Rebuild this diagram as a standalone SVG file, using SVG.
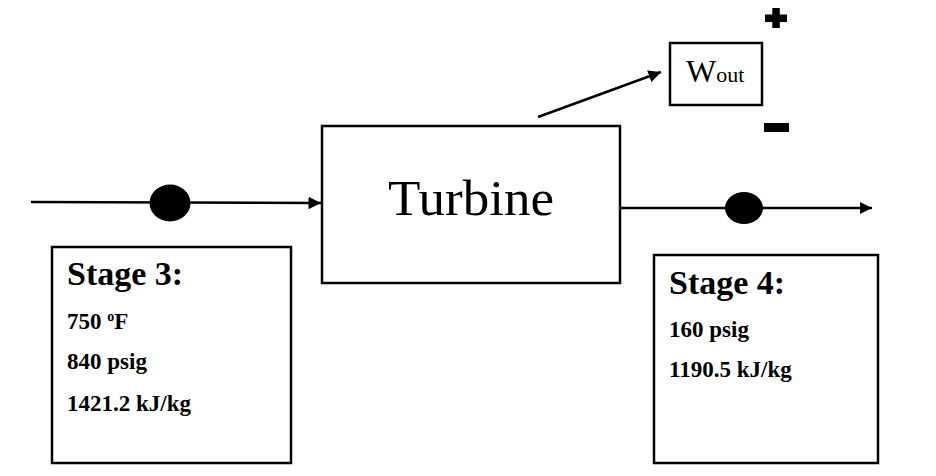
<svg xmlns="http://www.w3.org/2000/svg" width="936" height="476" viewBox="0 0 936 476">
<defs>
<style>
.box{fill:#fff;stroke:#000;stroke-width:2.5}
.ln{stroke:#000;stroke-width:2.5;fill:none}
.t{font-family:"Liberation Serif","Times New Roman",serif;fill:#000}
.b{font-weight:bold}
</style>
<marker id="ah" viewBox="0 0 10 10" refX="10" refY="5" markerWidth="5" markerHeight="5" orient="auto" markerUnits="strokeWidth">
<path d="M0,0 L10,5 L0,10 z" fill="#000"/>
</marker>
</defs>
<rect width="936" height="476" fill="#fff"/>
<g id="connectors">
<line class="ln" x1="31" y1="202" x2="321" y2="203" marker-end="url(#ah)"/>
<line class="ln" x1="620" y1="208" x2="872" y2="208" marker-end="url(#ah)"/>
<line class="ln" x1="538" y1="117" x2="661" y2="72" marker-end="url(#ah)"/>
</g>
<g id="point3"><ellipse cx="170" cy="203" rx="20.5" ry="18.5" fill="#000"/></g>
<g id="point4"><ellipse cx="744" cy="208" rx="19" ry="16" fill="#000"/></g>
<g id="turbine">
<rect class="box" x="322" y="126" width="298" height="157"/>
<text class="t" x="388" y="215" font-size="51" textLength="166" lengthAdjust="spacingAndGlyphs">Turbine</text>
</g>
<g id="wout">
<rect class="box" x="670" y="43" width="92" height="62"/>
<text class="t" x="686" y="82" font-size="32">W<tspan font-size="22">out</tspan></text>
</g>
<g id="signs">
<rect x="765" y="14.5" width="22" height="7.5" fill="#000"/>
<rect x="772.3" y="8" width="7.5" height="20" fill="#000"/>
<rect x="764" y="123" width="25" height="9" fill="#000"/>
</g>
<g id="stage3">
<rect class="box" x="52" y="247" width="239" height="216"/>
<text class="t b" x="67" y="285" font-size="34">Stage 3:</text>
<text class="t b" x="67" y="329" font-size="23">750 <tspan font-size="14" dy="-8">o</tspan><tspan dy="8">F</tspan></text>
<text class="t b" x="67" y="369" font-size="23">840 psig</text>
<text class="t b" x="67" y="411" font-size="23">1421.2 kJ/kg</text>
</g>
<g id="stage4">
<rect class="box" x="654" y="255" width="224" height="208"/>
<text class="t b" x="669" y="294" font-size="34">Stage 4:</text>
<text class="t b" x="669" y="337" font-size="23">160 psig</text>
<text class="t b" x="669" y="377" font-size="23">1190.5 kJ/kg</text>
</g>
</svg>
